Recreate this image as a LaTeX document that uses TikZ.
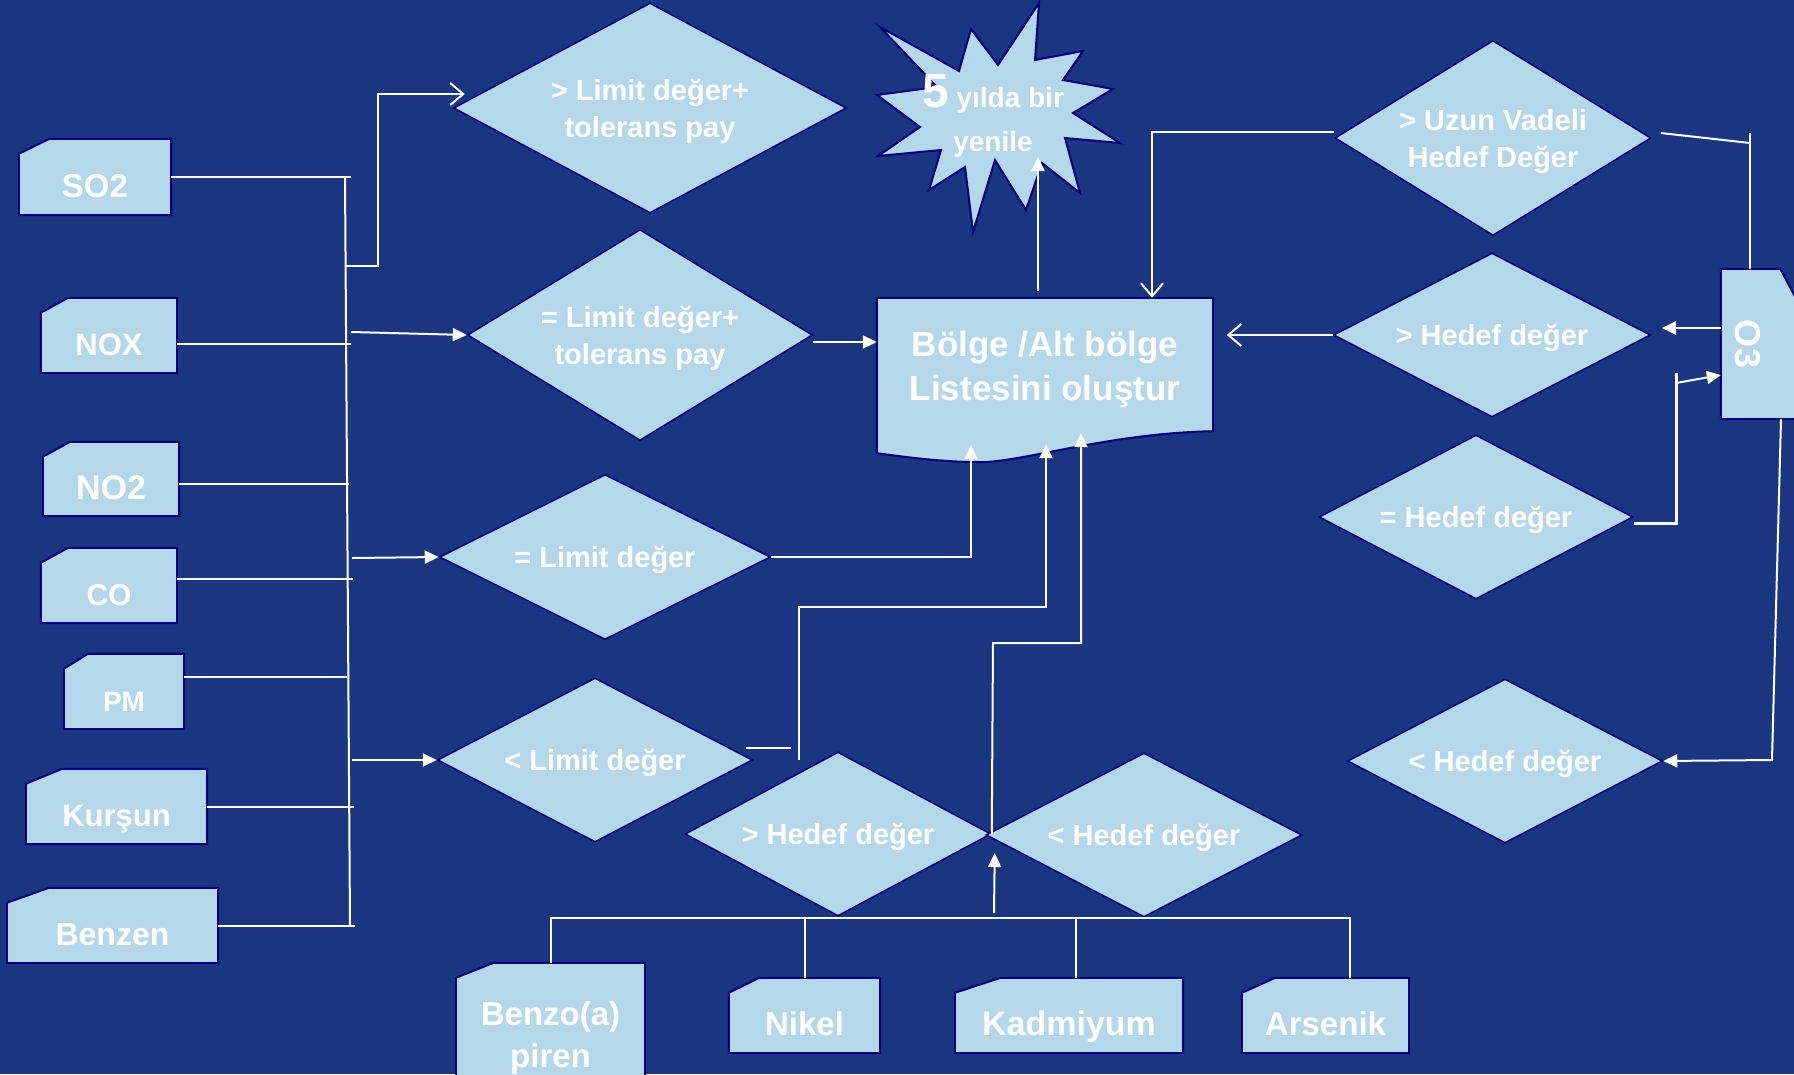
\documentclass[tikz,border=0pt]{standalone}
\usepackage{fontspec}
\setmainfont{Liberation Sans}
\usetikzlibrary{shapes.geometric,calc,arrows.meta,backgrounds}

\definecolor{zemin}{RGB}{26,54,128}
\definecolor{kutu}{RGB}{180,215,234}
\definecolor{kenar}{RGB}{0,0,128}

\tikzset{
	karar/.style={diamond,aspect=2,inner sep=0pt,fill=kutu,draw=kenar,line width=1.5pt,
		text=white,align=center,font=\fontsize{29}{37}\selectfont\bfseries,text depth=0pt},
	kart/.style={rectangle,inner sep=0pt,text=white,font=\fontsize{#1}{#1}\selectfont\bfseries,
		text height=40pt,text depth=0pt},
	kartcizgi/.style={fill=kutu,draw=kenar,line width=2pt},
	hat/.style={white,line width=2pt},
	ok/.style={hat,-{Triangle[length=14pt,width=13pt]}},
	acikok/.style={hat,-{Straight Barb[length=13pt,width=22pt]}}
}

\begin{document}
\begin{tikzpicture}[x=1pt,y=-1pt]
	\useasboundingbox (0,0) rectangle (1794,1074);

	% sol kartlar
	\node[kart=33,minimum width=152pt,minimum height=76pt] (so2) at (95,177) {SO2};
	\node[kart=31,minimum width=136pt,minimum height=75pt] (nox) at (109,335.5) {NOX};
	\node[kart=34,minimum width=136pt,minimum height=74pt] (no2) at (111,479) {NO2};
	\node[kart=30,minimum width=136pt,minimum height=75pt] (co) at (109,585.5) {CO};
	\node[kart=28,minimum width=120pt,minimum height=75pt] (pm) at (124,691.5) {PM};
	\node[kart=31,minimum width=181pt,minimum height=75pt] (kursun) at (116.5,806.5) {Kurşun};
	\node[kart=32,minimum width=211pt,minimum height=75pt] (benzen) at (112.5,925.5) {Benzen};

	% alt kartlar
	\node[kart=33,minimum width=189pt,minimum height=117pt,align=center,
		font=\fontsize{33}{42}\selectfont\bfseries,text height=100pt,text depth=9pt] (bap) at (550.5,1021.5) {Benzo(a)\\piren};
	\node[kart=33,minimum width=151pt,minimum height=75pt] (nikel) at (804.5,1015.5) {Nikel};
	\node[kart=34,minimum width=228pt,minimum height=75pt] (kadmiyum) at (1069,1015.5) {Kadmiyum};
	\node[kart=33,minimum width=167pt,minimum height=75pt] (arsenik) at (1325.5,1015.5) {Arsenik};

	\node[rectangle,inner sep=0pt,text=white,font=\fontsize{36}{36}\selectfont\bfseries,
		minimum width=75pt,minimum height=150pt] (o3) at (1758.5,344) {\rotatebox{-90}{O3}\hspace*{21pt}};

	\node[rectangle,inner sep=0pt,minimum width=336pt,minimum height=155pt,text=white,align=center,
		font=\fontsize{35}{44}\selectfont\bfseries,text height=60pt,text depth=11pt] (liste) at (1045,375.5)
		{Bölge /Alt bölge\\Listesini oluştur};

	% yildiz
	\filldraw[kartcizgi] (880,27) -- (959,71) -- (971,29) -- (998,65) -- (1039,3) -- (1035,60)
		-- (1083,51) -- (1063,80) -- (1113,89) -- (1073,113) -- (1120,143) -- (1065,138)
		-- (1080,193) -- (1042,163) -- (1026,210) -- (995,160) -- (973,232) -- (965,167)
		-- (929,190) -- (941,150) -- (878,156) -- (920,127) -- (877,95) -- (937,87) -- cycle;
	\node[text=white,align=center,inner sep=0pt,font=\fontsize{28}{44}\selectfont\bfseries] (yildiz) at (993,116)
		{{\fontsize{48}{44}\selectfont 5} yılda bir\\yenile};
	\coordinate (yildizalt) at (1038,157);

	% kararlar
	\node[karar,minimum width=393pt,minimum height=210pt] (d1) at (650,108) {> Limit değer+\\tolerans pay};
	\node[karar,minimum width=345pt,minimum height=211pt] (d2) at (640,335) {= Limit değer+\\tolerans pay};
	\node[karar,minimum width=331pt,minimum height=165pt] (d3) at (605,557) {= Limit değer};
	\node[karar,minimum width=315pt,minimum height=164pt] (d4) at (595,760) {< Limit değer};
	\node[karar,minimum width=306pt,minimum height=164pt] (d5) at (838,834) {> Hedef değer};
	\node[karar,minimum width=316pt,minimum height=164pt] (d6) at (1144,835) {< Hedef değer};
	\node[karar,minimum width=316pt,minimum height=195pt] (d7) at (1493,138) {> Uzun Vadeli\\Hedef Değer};
	\node[karar,minimum width=317pt,minimum height=164pt] (d8) at (1492,335) {> Hedef değer};
	\node[karar,minimum width=314pt,minimum height=164pt] (d9) at (1476,517) {= Hedef değer};
	\node[karar,minimum width=315pt,minimum height=164pt] (d10) at (1505,761) {< Hedef değer};

	\begin{scope}[on background layer]
		\fill[zemin] (0,0) rectangle (1794,1074);
		\foreach \k in {so2,nox,no2,co,pm,kursun,benzen,bap,nikel,kadmiyum,arsenik}
			\filldraw[kartcizgi] (\k.south west) -- ($(\k.north west)+(0,15)$)
				-- ($(\k.north west)!0.2!(\k.north east)$) -- (\k.north east) -- (\k.south east) -- cycle;
		\filldraw[kartcizgi] (o3.south west) -- (o3.north west) -- ($(o3.north east)+(-16,0)$)
			-- ($(o3.north east)+(0,30)$) -- (o3.south east) -- cycle;
		\filldraw[kartcizgi] (liste.south west) -- (liste.north west) -- (liste.north east)
			-- ($(liste.south east)+(0,-22)$)
			.. controls ($(liste.south east)+(-103,-20)$) and ($(liste.south)+(-15,7)$) .. ($(liste.south)+(-62,9)$)
			.. controls ($(liste.south)+(-105,9)$) and ($(liste.south west)+(23,3)$) .. (liste.south west) -- cycle;
	\end{scope}

	% sol govde
	\coordinate (govdeust) at (345,177);
	\coordinate (govdealt) at (350,926);
	\draw[hat] (govdeust) -- (govdealt);
	\foreach \k/\dy/\l in {so2/0/180,nox/-8.5/174,no2/-5/170,co/6.5/176,pm/14.5/163,kursun/0/147,benzen/0/137}
		\draw[hat] ([yshift=\dy pt]\k.east) -- ++(\l,0);

	\coordinate (dal1) at (345,266);
	\coordinate (dal2) at (351,332);
	\coordinate (dal3) at (352,558);
	\coordinate (dal4) at (352,760);
	\draw[acikok] (dal1) -| (378,94) -- ($(d1.west)+(12,-14)$);
	\draw[ok] (dal2) -- (d2.west);
	\draw[ok] (dal3) -- (d3.west);
	\draw[ok] (dal4) -- (d4.west);

	% listeye girenler
	\draw[ok] ([yshift=-7pt]d2.east) -- ([yshift=33.5pt]liste.west);
	\draw[ok] (d3.east) -| ([xshift=-74pt,yshift=8pt]liste.south);
	\draw[hat] ([xshift=-7pt,yshift=12pt]d4.east) -- ++(45,0);
	\coordinate (k4) at (799,760);
	\draw[ok] (k4) |- (1046,607) -- ([xshift=1pt,yshift=9pt]liste.south);
	\draw[ok] (d5.east) -- (993,643) -| ([xshift=36pt,yshift=20pt]liste.south);
	\draw[ok] ([xshift=-7pt,yshift=7pt]liste.north) -- (yildizalt);
	\draw[acikok] ([yshift=6pt]d7.west) -| ([xshift=107pt]liste.north);
	\draw[acikok] (d8.west) -- ++(-106,0);

	% alt bara
	\coordinate (bara) at (994,918);
	\path ([xshift=7pt]kadmiyum.north) coordinate (kd);
	\draw[hat] (bap.north) |- (bara) -| ([xshift=24pt]arsenik.north);
	\draw[hat] (nikel.north) -- (nikel.north |- bara);
	\draw[hat] (kd) -- (kd |- bara);
	\draw[ok] ([yshift=5pt]bara) -- ([xshift=3pt,yshift=-19pt]d5.east);

	% O3
	\coordinate (o3ust) at (1750,133);
	\coordinate (o3giris) at (1676,383);
	\draw[hat] ([xshift=9pt,yshift=5pt]d7.east) -- (1750,143);
	\draw[hat] (o3ust) -- ([xshift=-8.5pt]o3.north);
	\draw[ok] ([yshift=16pt]o3.west) -- ++(-59,0);
	\draw[hat,line width=3pt] ([yshift=-6pt]d9.east) -| (1676,373);
	\draw[ok] (o3giris) -- ([yshift=-31pt]o3.west);
	\draw[ok] ([xshift=22.5pt]o3.south) -- (1772,760) -- (d10.east);
\end{tikzpicture}
\end{document}
